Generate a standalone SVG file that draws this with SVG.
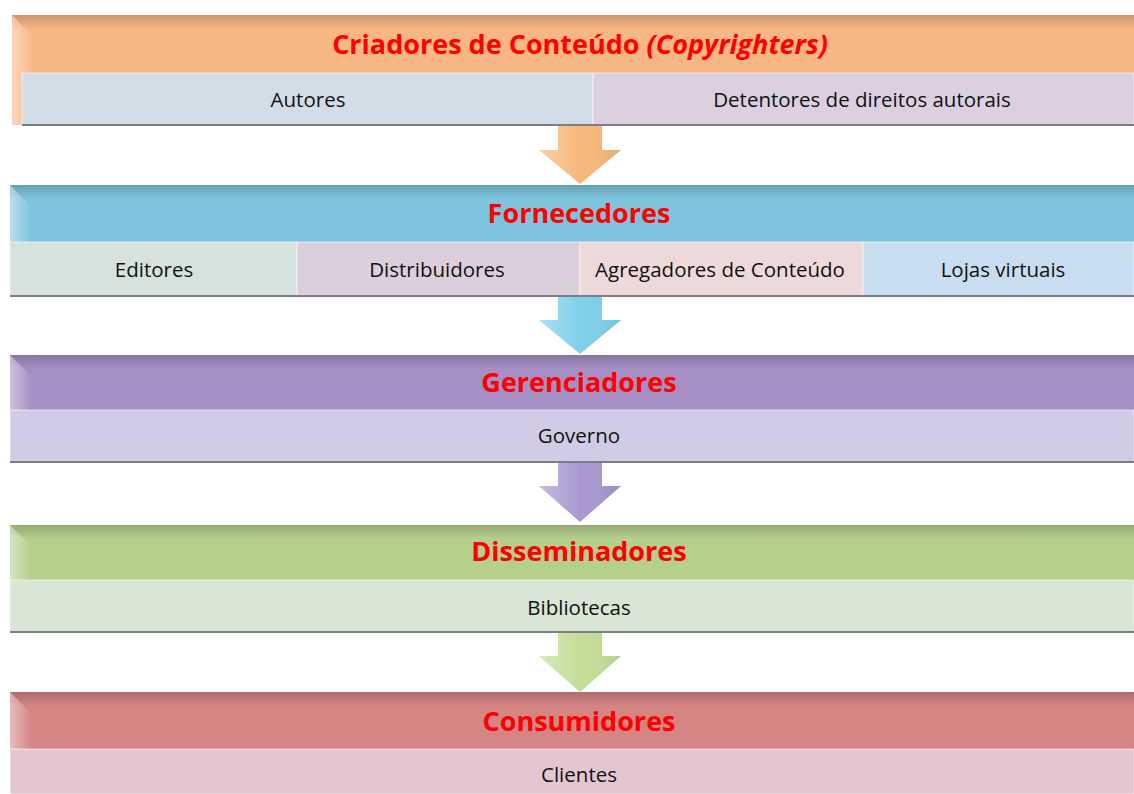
<svg xmlns="http://www.w3.org/2000/svg" width="1134" height="794" viewBox="0 0 1134 794">
<style>
.t{font-family:"Open Sans","Liberation Sans",sans-serif;font-weight:bold;font-size:27px;fill:#FF0000;text-anchor:middle}
.s{font-family:"Open Sans","Liberation Sans",sans-serif;font-size:20.5px;fill:#111;text-anchor:middle}
.edge{fill:none;stroke:#7d7d8a;stroke-width:2}
.sub{stroke:#ffffff;stroke-opacity:0.6;stroke-width:1}
</style>
<defs>
<linearGradient id="shadeTop" x1="0" y1="0" x2="0" y2="1">
<stop offset="0" stop-color="#000" stop-opacity="0.18"/>
<stop offset="0.25" stop-color="#000" stop-opacity="0"/>
<stop offset="1" stop-color="#000" stop-opacity="0"/>
</linearGradient>
<linearGradient id="bevelL" x1="0" y1="0" x2="1" y2="0">
<stop offset="0" stop-color="#fff" stop-opacity="0.45"/>
<stop offset="1" stop-color="#fff" stop-opacity="0"/>
</linearGradient>
<linearGradient id="arrowShade" x1="0" y1="0" x2="1" y2="0">
<stop offset="0" stop-color="#fff" stop-opacity="0.35"/>
<stop offset="0.5" stop-color="#fff" stop-opacity="0"/>
<stop offset="1" stop-color="#000" stop-opacity="0.08"/>
</linearGradient>
</defs>
<rect width="1134" height="794" fill="#ffffff"/>

<g id="connectors">
<path d="M558 125 H602 V150 H621 L580 184 L539 150 H558 Z" fill="#F8B87A"/>
<path d="M558 125 H602 V150 H621 L580 184 L539 150 H558 Z" fill="url(#arrowShade)"/>
<path d="M558 296 H602 V320 H621 L580 354 L539 320 H558 Z" fill="#7FD0EA"/>
<path d="M558 296 H602 V320 H621 L580 354 L539 320 H558 Z" fill="url(#arrowShade)"/>
<path d="M558 462 H602 V486 H621 L580 522 L539 486 H558 Z" fill="#A898D0"/>
<path d="M558 462 H602 V486 H621 L580 522 L539 486 H558 Z" fill="url(#arrowShade)"/>
<path d="M558 632 H602 V656 H621 L580 692 L539 656 H558 Z" fill="#C5DD98"/>
<path d="M558 632 H602 V656 H621 L580 692 L539 656 H558 Z" fill="url(#arrowShade)"/>
</g>

<g id="criadores">
<rect x="12" y="15" width="1122" height="110" fill="#F9B685"/>
<rect x="12" y="15" width="1122" height="58" fill="url(#shadeTop)"/>
<path d="M12 15 L34 37 V125 H12 Z" fill="url(#bevelL)"/>
<text class="t" x="580" y="54">Criadores de Conteúdo <tspan font-style="italic">(Copyrighters)</tspan></text>
</g>
<g id="autores">
<rect class="sub" x="22" y="73" width="571" height="52" fill="#D3DDE8"/>
<text class="s" x="308" y="107">Autores</text>
</g>
<g id="detentores">
<rect class="sub" x="593" y="73" width="541" height="52" fill="#DCD0E0"/>
<text class="s" x="862" y="107">Detentores de direitos autorais</text>
</g>
<line class="edge" x1="22" y1="125" x2="1134" y2="125"/>

<g id="fornecedores">
<rect x="10" y="185" width="1124" height="112" fill="#7FC4DE"/>
<rect x="10" y="185" width="1124" height="57" fill="url(#shadeTop)"/>
<path d="M10 185 L32 207 V242 H10 Z" fill="url(#bevelL)"/>
<text class="t" x="579" y="223">Fornecedores</text>
</g>
<g id="editores">
<rect class="sub" x="10" y="242" width="287" height="54" fill="#D5E3DC"/>
<text class="s" x="154" y="277">Editores</text>
</g>
<g id="distribuidores">
<rect class="sub" x="297" y="242" width="283" height="54" fill="#DCCFDC"/>
<text class="s" x="437" y="277">Distribuidores</text>
</g>
<g id="agregadores">
<rect class="sub" x="580" y="242" width="283" height="54" fill="#EED9DA"/>
<text class="s" x="720" y="277">Agregadores de Conteúdo</text>
</g>
<g id="lojas">
<rect class="sub" x="863" y="242" width="271" height="54" fill="#C8DDF0"/>
<text class="s" x="1003" y="277">Lojas virtuais</text>
</g>
<line class="edge" x1="10" y1="296" x2="1134" y2="296"/>

<g id="gerenciadores">
<rect x="10" y="355" width="1124" height="55" fill="#A58FC4"/>
<rect x="10" y="355" width="1124" height="55" fill="url(#shadeTop)"/>
<path d="M10 355 L32 377 V410 H10 Z" fill="url(#bevelL)"/>
<text class="t" x="579" y="392">Gerenciadores</text>
</g>
<g id="governo">
<rect class="sub" x="10" y="410" width="1124" height="52" fill="#D2CBE6"/>
<text class="s" x="579" y="443">Governo</text>
</g>
<line class="edge" x1="10" y1="462" x2="1134" y2="462"/>

<g id="disseminadores">
<rect x="10" y="525" width="1124" height="55" fill="#B5CF8C"/>
<rect x="10" y="525" width="1124" height="55" fill="url(#shadeTop)"/>
<path d="M10 525 L32 547 V580 H10 Z" fill="url(#bevelL)"/>
<text class="t" x="579" y="561">Disseminadores</text>
</g>
<g id="bibliotecas">
<rect class="sub" x="10" y="580" width="1124" height="52" fill="#D9E5D5"/>
<text class="s" x="579" y="615">Bibliotecas</text>
</g>
<line class="edge" x1="10" y1="632" x2="1134" y2="632"/>

<g id="consumidores">
<rect x="10" y="692" width="1124" height="57" fill="#D48584"/>
<rect x="10" y="692" width="1124" height="57" fill="url(#shadeTop)"/>
<path d="M10 692 L32 714 V749 H10 Z" fill="url(#bevelL)"/>
<text class="t" x="579" y="731">Consumidores</text>
</g>
<g id="clientes">
<rect class="sub" x="10" y="749" width="1124" height="45" fill="#E3C6D1"/>
<text class="s" x="579" y="782">Clientes</text>
</g>
</svg>
